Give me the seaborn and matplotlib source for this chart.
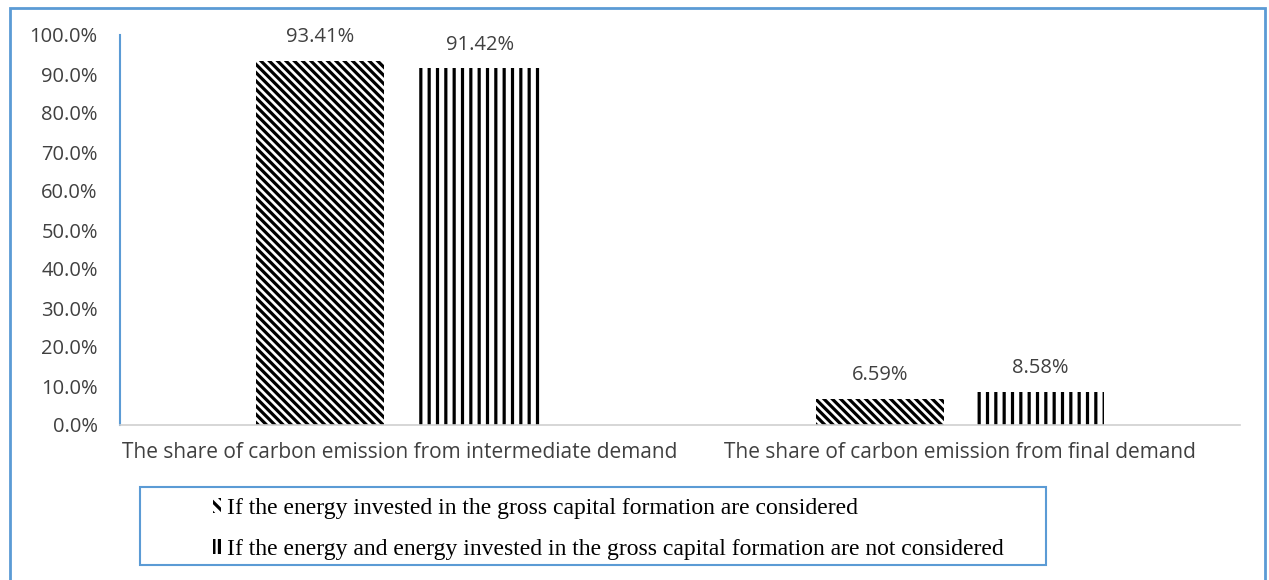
import pandas as pd
import seaborn as sns
import matplotlib.pyplot as plt
from matplotlib.patches import Rectangle, Patch
from matplotlib.ticker import FuncFormatter

# chart values (percent)
categories = ["The share of carbon emission from intermediate demand",
              "The share of carbon emission from final demand"]
series_names = ["If the energy invested in the gross capital formation are considered",
                "If the energy and energy invested in the gross capital formation are not considered"]
considered = [93.41, 6.59]
not_considered = [91.42, 8.58]
y_ticks = [0, 10, 20, 30, 40, 50, 60, 70, 80, 90, 100]

data = pd.DataFrame({
    "category": categories * 2,
    "series": [series_names[0]] * 2 + [series_names[1]] * 2,
    "share": considered + not_considered,
})

sns.set_style("white")
plt.rcParams["font.family"] = ["Open Sans", "DejaVu Sans"]
plt.rcParams["hatch.linewidth"] = 2.3
plt.rcParams["hatch.color"] = "black"

blue = "#5B9BD5"
text_grey = "#404040"

fig = plt.figure(figsize=(12.69, 5.80), dpi=100)
ax = fig.add_axes([120 / 1269, 1 - 425 / 580, 1120 / 1269, 390 / 580])

sns.barplot(data=data, x="category", y="share", hue="series",
            palette=["white", "white"], width=0.57, gap=0.2,
            edgecolor="black", linewidth=0, ax=ax, legend=False)

hatches = ["\\\\\\\\", "||"]
for cont, h in zip(ax.containers, hatches):
    for bar in cont:
        bar.set_hatch(h)
        bar.set_edgecolor("black")
        bar.set_linewidth(0)
    ax.bar_label(cont, labels=[f"{v:.2f}%" for v in cont.datavalues],
                 padding=10, fontsize=14.5, color=text_grey)

ax.set_ylim(0, 100)
ax.set_yticks(y_ticks)
ax.yaxis.set_major_formatter(FuncFormatter(lambda v, p: f"{v:.1f}%"))
ax.set_xlim(-0.5, 1.5)
ax.set_xlabel("")
ax.set_ylabel("")
ax.tick_params(axis="y", length=0, pad=16, labelsize=14.5, labelcolor=text_grey)
ax.tick_params(axis="x", length=0, pad=12, labelsize=15, labelcolor=text_grey)

for side in ["top", "right"]:
    ax.spines[side].set_visible(False)
ax.spines["left"].set_color(blue)
ax.spines["left"].set_linewidth(1.5)
ax.spines["bottom"].set_color("#D0D0D0")
ax.spines["bottom"].set_linewidth(1.2)

# legend in a separate box below the plot
handles = [Patch(facecolor="white", edgecolor="black", linewidth=0, hatch=h)
           for h in ["\\\\\\", "|||"]]
fig.legend(handles, series_names, loc="upper left", frameon=False,
           bbox_to_anchor=(196 / 1269, 1 - 481 / 580),
           prop={"family": "Liberation Serif", "size": 17},
           handlelength=0.35, handleheight=0.6, handletextpad=0.25,
           labelspacing=0.85, borderpad=0.2, labelcolor="black")
fig.patches.append(Rectangle((140 / 1269, 1 - 565 / 580), 906 / 1269, 78 / 580,
                             transform=fig.transFigure, fill=False,
                             edgecolor=blue, linewidth=1.5))

# outer frame
fig.patches.append(Rectangle((10 / 1269, -0.01), 1255 / 1269, 1 - 8 / 580 + 0.01,
                             transform=fig.transFigure, fill=False,
                             edgecolor=blue, linewidth=2))

fig.savefig("out.png", dpi=100)
